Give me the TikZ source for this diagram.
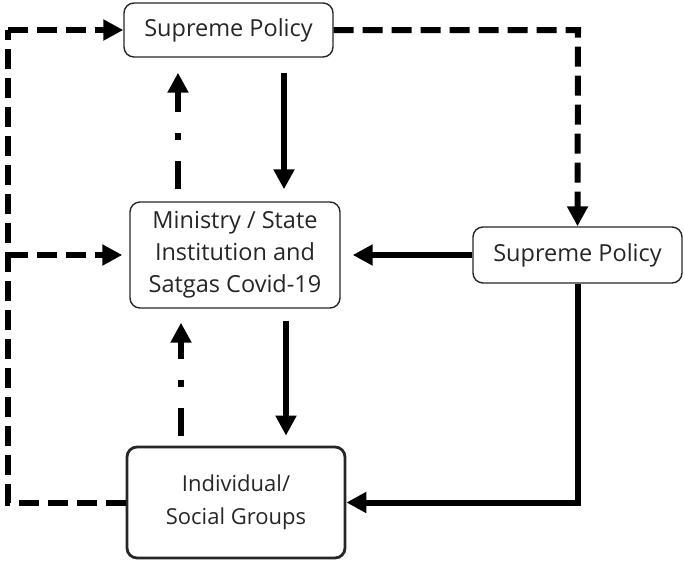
\documentclass[tikz,border=0pt]{standalone}
\usepackage{fontspec}
\setmainfont{Open Sans}
\usetikzlibrary{arrows.meta}
\begin{document}
\begin{tikzpicture}[x=1pt,y=-1pt,
  box/.style={draw=black!85, line width=1.4pt, rounded corners=10pt, align=center,
     inner sep=0pt, text=black!85, font=\fontsize{23.5}{32}\selectfont},
  solidarr/.style={line width=6pt, -{Triangle[length=20pt,width=20pt]}},
  dasharr/.style={line width=6pt, dash pattern=on 20pt off 9pt, -{Triangle[length=20pt,width=20pt]}},
  dashline/.style={line width=6pt, dash pattern=on 20pt off 9pt},
  dotarr/.style={line width=6pt, dash pattern=on 28pt off 21pt on 7pt off 21pt, -{Triangle[length=20pt,width=20pt]}}
]
\useasboundingbox (0,0) rectangle (685,562);
\node[box, minimum width=209pt, minimum height=54pt] (top) at (228.5,30) {Supreme Policy};
\node[box, minimum width=210pt, minimum height=106pt] (mid) at (235,255) {Ministry / State\\Institution and\\Satgas Covid-19};
\node[box, minimum width=209pt, minimum height=56pt] (right) at (577.5,255) {Supreme Policy};
\node[box, line width=2.8pt, minimum width=218pt, minimum height=111pt, font=\fontsize{22}{33}\selectfont] (bot) at (236,502.5) {Individual/\\Social Groups};
\coordinate (lb) at (8,502.5);
\coordinate (lt) at (8,30);
\coordinate (lm) at (8,255);
\coordinate (rt) at (578,30);
% dashed paths
\draw[dasharr] (top.east) -- (rt) -- (right.north);
\draw[dashline, line cap=butt] (bot.west) -- (lb) -- (lt);
\draw[dasharr] (lt) -- (top.west);
\draw[dasharr, shorten >=7pt] (lm) -- (mid.west);
% solid paths
\draw[solidarr, shorten >=12pt] (right.west) -- (mid.east);
\draw[solidarr] (right.south) |- (bot.east);
\draw[solidarr, shorten <=15pt, shorten >=12pt] ([xshift=55.5pt]top.south) -- ([xshift=49pt]mid.north);
\draw[solidarr, shorten <=12pt, shorten >=10pt] ([xshift=51pt]mid.south) -- ([xshift=50pt]bot.north);
% dash-dot paths
\draw[dotarr, shorten <=12pt, shorten >=15pt] ([xshift=-57pt]mid.north) -- ([xshift=-50.5pt]top.south);
\draw[dotarr, shorten <=10pt, shorten >=14pt] ([xshift=-55pt]bot.north) -- ([xshift=-54pt]mid.south);
\end{tikzpicture}
\end{document}
